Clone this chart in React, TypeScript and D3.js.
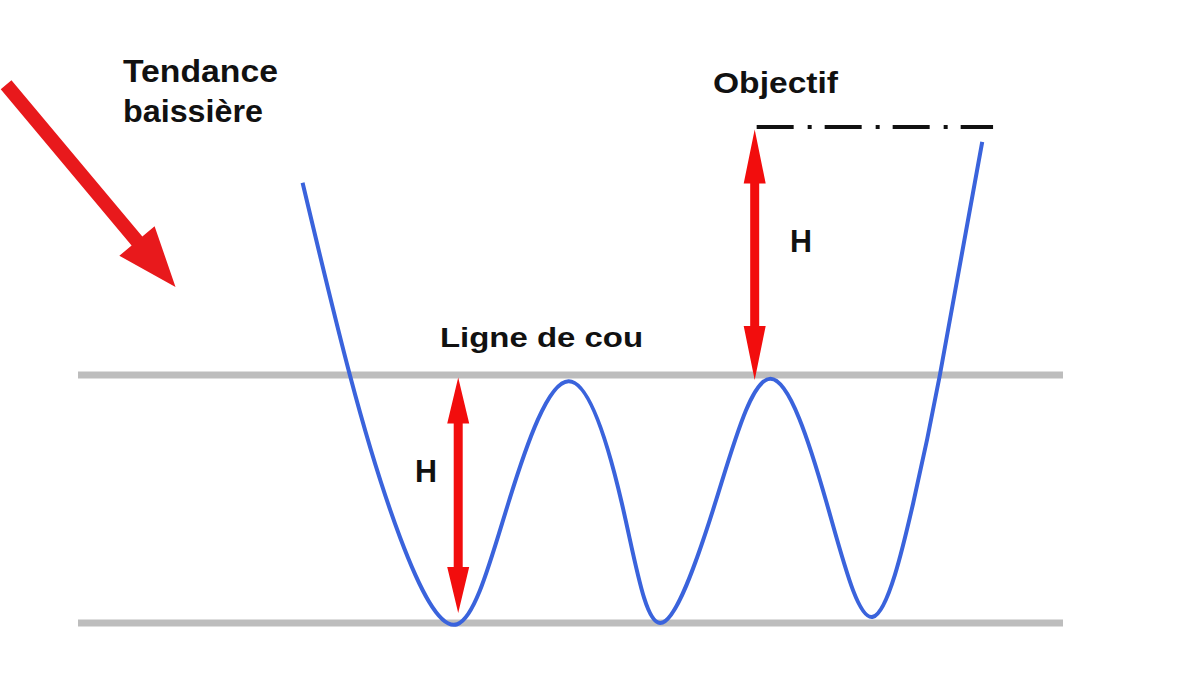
import { useMemo } from "react";
import * as d3 from "d3";

/* ------------------------------------------------------------------ */
/*  Data (time in arbitrary sessions, price in arbitrary points)       */
/* ------------------------------------------------------------------ */

// Price path (extremes and mid-swing points):
// fall, three lows on the support, breakout above the neckline
const pathTimes = [22.8, 27.6, 32.7, 38.5, 43.7, 49.8, 55.2, 59.1, 64.7, 70.3, 76.0, 80.7, 84.8, 87.5, 91.8];
const pathPrices = [115.5, 100, 86.9, 79.9, 89.7, 99.5, 89.7, 80, 89.7, 99.7, 89.7, 80.5, 89.7, 100, 118.8];

// Horizontal levels
const necklineLevel = 100;
const supportLevel = 80;
const targetLevel = 120;
const levelTimes = [0, 100];
const targetTimes = [68.9, 92.9];

// Prior downtrend arrow (time, price)
const trendStart = [-7.3, 123.4];
const trendEnd = [9.9, 107.1];

// "H" measures: time, price from, price to
const measureTimes = [38.6, 68.7];
const measureFrom = [99.8, 99.6];
const measureTo = [80.8, 119.8];

const labelTrend = ["Tendance", "baissière"];
const labelTarget = "Objectif";
const labelNeck = "Ligne de cou";
const labelMeasure = "H";

/* ------------------------------------------------------------------ */
/*  Geometry helpers                                                   */
/* ------------------------------------------------------------------ */

function doubleArrow(x: number, y1: number, y2: number, w: number, hw: number, hl: number) {
  const top = Math.min(y1, y2);
  const bot = Math.max(y1, y2);
  const pts = [
    [x, top],
    [x + hw / 2, top + hl],
    [x + w / 2, top + hl],
    [x + w / 2, bot - hl],
    [x + hw / 2, bot - hl],
    [x, bot],
    [x - hw / 2, bot - hl],
    [x - w / 2, bot - hl],
    [x - w / 2, top + hl],
    [x - hw / 2, top + hl],
  ];
  return pts.map((p) => p.join(",")).join(" ");
}

function singleArrow(x0: number, y0: number, x1: number, y1: number, w: number, hw: number, hl: number) {
  const dx = x1 - x0;
  const dy = y1 - y0;
  const len = Math.hypot(dx, dy);
  const ux = dx / len;
  const uy = dy / len;
  const nx = -uy;
  const ny = ux;
  const bx = x1 - ux * hl;
  const by = y1 - uy * hl;
  const pts = [
    [x0 + (nx * w) / 2, y0 + (ny * w) / 2],
    [bx + (nx * w) / 2, by + (ny * w) / 2],
    [bx + (nx * hw) / 2, by + (ny * hw) / 2],
    [x1, y1],
    [bx - (nx * hw) / 2, by - (ny * hw) / 2],
    [bx - (nx * w) / 2, by - (ny * w) / 2],
    [x0 - (nx * w) / 2, y0 - (ny * w) / 2],
  ];
  return pts.map((p) => p.join(",")).join(" ");
}

/* ------------------------------------------------------------------ */
/*  Component                                                          */
/* ------------------------------------------------------------------ */

export default function App() {
  const width = 1200;
  const height = 675;

  const x = useMemo(() => d3.scaleLinear().domain([0, 100]).range([78, 1063]), []);
  const y = useMemo(() => d3.scaleLinear().domain([supportLevel, necklineLevel]).range([623, 375]), []);

  const pricePath = useMemo(() => {
    const pts = pathTimes.map((t, i) => [t, pathPrices[i]] as [number, number]);
    return d3
      .line<[number, number]>()
      .x((d) => x(d[0]))
      .y((d) => y(d[1]))
      .curve(d3.curveNatural)(pts);
  }, [x, y]);

  const font = "'Liberation Sans', Arial, sans-serif";
  const red = "#f20d0d";

  return (
    <svg
      width={width}
      height={height}
      viewBox={`0 0 ${width} ${height}`}
      style={{ position: "absolute", left: 0, top: 0, display: "block", background: "#fff" }}
    >
      {/* Support and neckline */}
      {[necklineLevel, supportLevel].map((lvl) => (
        <line
          key={lvl}
          x1={x(levelTimes[0])}
          x2={x(levelTimes[1])}
          y1={y(lvl)}
          y2={y(lvl)}
          stroke="#bdbdbd"
          strokeWidth={7}
        />
      ))}

      {/* Target dash-dot */}
      <line
        x1={x(targetTimes[0])}
        x2={x(targetTimes[1])}
        y1={y(targetLevel)}
        y2={y(targetLevel)}
        stroke="#111"
        strokeWidth={4}
        strokeDasharray="37 14 4 13"
      />

      {/* Price */}
      <path d={pricePath ?? ""} fill="none" stroke="#3a63dc" strokeWidth={4} strokeLinejoin="round" />

      {/* Downtrend arrow */}
      <polygon
        points={singleArrow(x(trendStart[0]), y(trendStart[1]), x(trendEnd[0]), y(trendEnd[1]), 14, 46, 60)}
        fill="#e8191c"
      />

      {/* H measures */}
      {measureTimes.map((t, i) => (
        <polygon
          key={i}
          points={doubleArrow(x(t), y(measureFrom[i]), y(measureTo[i]), 9, 22, i === 0 ? 46 : 54)}
          fill={red}
        />
      ))}

      {/* Labels */}
      <g fontFamily={font} fontWeight="bold" fill="#111">
        <text x={123} y={82} fontSize={31} textLength={155} lengthAdjust="spacingAndGlyphs">
          {labelTrend[0]}
        </text>
        <text x={123} y={122} fontSize={31} textLength={140} lengthAdjust="spacingAndGlyphs">
          {labelTrend[1]}
        </text>
        <text x={713} y={93} fontSize={30} textLength={125} lengthAdjust="spacingAndGlyphs">
          {labelTarget}
        </text>
        <text x={440} y={347} fontSize={28} textLength={203} lengthAdjust="spacingAndGlyphs">
          {labelNeck}
        </text>
        <text x={415} y={482} fontSize={31} textLength={22} lengthAdjust="spacingAndGlyphs">
          {labelMeasure}
        </text>
        <text x={790} y={252} fontSize={31} textLength={22} lengthAdjust="spacingAndGlyphs">
          {labelMeasure}
        </text>
      </g>
    </svg>
  );
}
